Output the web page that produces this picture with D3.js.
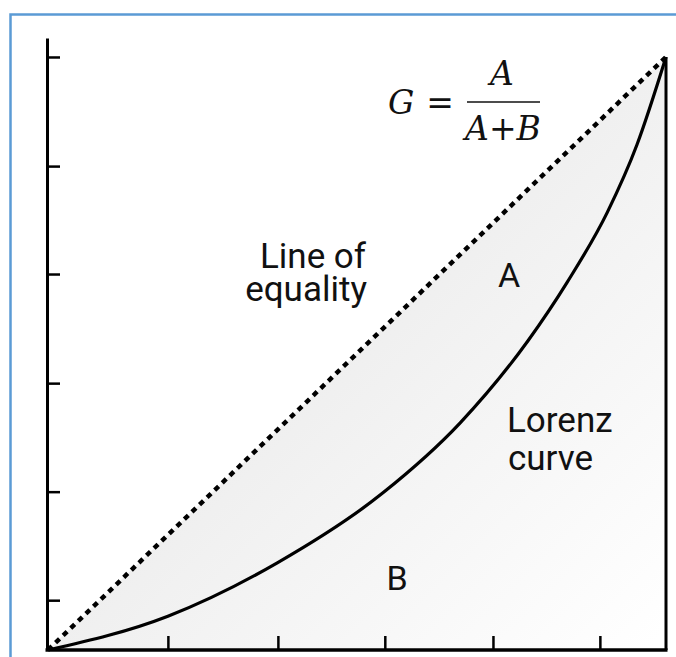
<!DOCTYPE html>
<html>
<head>
<meta charset="utf-8">
<script src="https://cdn.jsdelivr.net/npm/d3@7"></script>
<style>
  html, body { margin: 0; padding: 0; background: #fff; }
  svg { display: block; }
</style>
</head>
<body>
<svg width="676" height="657"></svg>
<script>
// Lorenz curve (share of population -> share of income)
const lorenzX = [0, 0.194, 0.371, 0.542, 0.667, 0.777, 0.840, 0.905, 0.953, 1];
const lorenzY = [0, 0.057, 0.147, 0.265, 0.383, 0.522, 0.620, 0.738, 0.852, 1];

// line of equality
const equalityX = [0, 1];
const equalityY = [0, 1];

// tick positions (unlabelled)
const xTicks = [0.194, 0.372, 0.545, 0.72, 0.893];
const yTicks = [0.084, 0.267, 0.45, 0.634, 0.816, 1.0];

const svg = d3.select("svg");
const width = +svg.attr("width");
const height = +svg.attr("height");

// --- frame (blue edge, top and left) ---
svg.append("path")
  .attr("d", `M10.5,${height} L10.5,14.5 L${width},14.5`)
  .attr("fill", "none")
  .attr("stroke", "#5b9bd5")
  .attr("stroke-width", 2.5);

// --- scales ---
const x = d3.scaleLinear().domain([0, 1]).range([48, 666]);
const y = d3.scaleLinear().domain([0, 1.032]).range([650, 38]);

// --- gradient fill under the line of equality ---
const defs = svg.append("defs");
const grad = defs.append("linearGradient")
  .attr("id", "shade")
  .attr("gradientUnits", "userSpaceOnUse")
  .attr("x1", x(0.45)).attr("y1", y(0.55))
  .attr("x2", x(0.97)).attr("y2", y(0.0));
grad.append("stop").attr("offset", "0%").attr("stop-color", "#eeeeee");
grad.append("stop").attr("offset", "100%").attr("stop-color", "#ffffff");

const tri = [[0, 0], [1, 1], [1, 0]];
svg.append("path")
  .attr("d", d3.line().x(d => x(d[0])).y(d => y(d[1]))(tri) + "Z")
  .attr("fill", "url(#shade)");

// --- axes ---
svg.append("g")
  .attr("transform", `translate(${x(0) - 1},0)`)
  .call(d3.axisRight(y).tickValues(yTicks).tickSize(13).tickFormat("").tickSizeOuter(0))
  .call(g => g.select(".domain").attr("stroke-width", 3))
  .call(g => g.selectAll(".tick line").attr("stroke-width", 2.5));

svg.append("g")
  .attr("transform", `translate(0,${y(0)})`)
  .call(d3.axisTop(x).tickValues(xTicks).tickSize(14).tickFormat("").tickSizeOuter(0))
  .call(g => g.select(".domain").attr("d", `M${x(0) - 2.5},0H${x(1) + 1.5}`).attr("stroke-width", 3.5))
  .call(g => g.selectAll(".tick line").attr("stroke-width", 2.5));

// right edge
svg.append("line")
  .attr("x1", x(1)).attr("x2", x(1))
  .attr("y1", y(1)).attr("y2", y(0))
  .attr("stroke", "#000")
  .attr("stroke-width", 3);

// --- line of equality (dotted) ---
svg.append("path")
  .datum(equalityX.map((v, i) => [v, equalityY[i]]))
  .attr("d", d3.line().x(d => x(d[0])).y(d => y(d[1])))
  .attr("fill", "none")
  .attr("stroke", "#000")
  .attr("stroke-width", 4.5)
  .attr("stroke-dasharray", "5.5 5");

// --- Lorenz curve ---
svg.append("path")
  .datum(lorenzX.map((v, i) => [v, lorenzY[i]]))
  .attr("d", d3.line().x(d => x(d[0])).y(d => y(d[1])).curve(d3.curveMonotoneX))
  .attr("fill", "none")
  .attr("stroke", "#000")
  .attr("stroke-width", 3.2);

// --- labels ---
const sans = "Roboto, 'Liberation Sans', sans-serif";
function label(lines, px, py, anchor, size, gap) {
  const t = svg.append("text")
    .attr("y", py)
    .attr("text-anchor", anchor)
    .style("font-family", sans)
    .style("font-size", size + "px")
    .style("fill", "#111");
  lines.forEach((s, i) => {
    t.append("tspan")
      .attr("x", px + (i === 0 ? 0 : 1))
      .attr("dy", i === 0 ? 0 : gap)
      .text(s);
  });
}
label(["Line of", "equality"], 366, 268, "end", 35, 33);
label(["Lorenz", "curve"], 507, 432, "start", 35, 38);
label(["A"], 509, 287, "middle", 34, 0);
label(["B"], 397, 590, "middle", 34, 0);

// --- formula G = A / (A+B) ---
const serif = "'DejaVu Serif', 'Liberation Serif', serif";
const f = svg.append("g")
  .style("font-family", serif)
  .style("font-size", "33px")
  .style("fill", "#111");
f.append("text").attr("x", 388).attr("y", 114).style("font-style", "italic").text("G");
f.append("text").attr("x", 440).attr("y", 114).attr("text-anchor", "middle").text("=");
f.append("text").attr("x", 502).attr("y", 85).attr("text-anchor", "middle").style("font-style", "italic").text("A");
const den = f.append("text").attr("x", 503).attr("y", 140).attr("text-anchor", "middle");
den.append("tspan").style("font-style", "italic").text("A");
den.append("tspan").text("+");
den.append("tspan").style("font-style", "italic").text("B");
f.append("line")
  .attr("x1", 467).attr("x2", 540)
  .attr("y1", 102).attr("y2", 102)
  .attr("stroke", "#111")
  .attr("stroke-width", 1.6);
</script>
</body>
</html>
